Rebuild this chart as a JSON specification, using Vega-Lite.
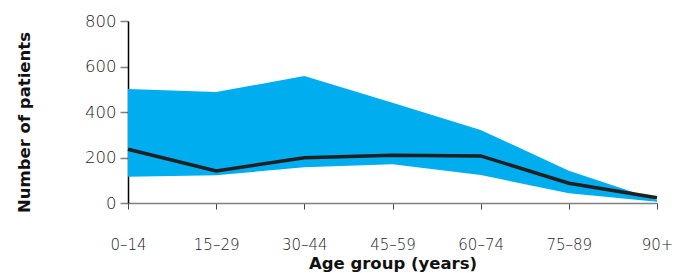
{
  "$schema": "https://vega.github.io/schema/vega-lite/v6.json",
  "autosize": {"type": "none"},
  "padding": {"left": 128, "top": 21, "right": 20, "bottom": 70},
  "width": 529,
  "height": 182,
  "background": "white",
  "config": {"view": {"stroke": null}, "axis": {"grid": false}},
  "data": {"values": [
    {"age": "0–14", "lower": 115, "upper": 501, "patients": 236},
    {"age": "15–29", "lower": 122, "upper": 488, "patients": 141},
    {"age": "30–44", "lower": 157, "upper": 558, "patients": 199},
    {"age": "45–59", "lower": 170, "upper": 441, "patients": 210},
    {"age": "60–74", "lower": 123, "upper": 321, "patients": 207},
    {"age": "75–89", "lower": 43, "upper": 142, "patients": 87},
    {"age": "90+", "lower": 6, "upper": 13, "patients": 23}
  ]},
  "encoding": {
    "x": {
      "field": "age", "type": "ordinal", "sort": null,
      "scale": {"type": "point", "padding": 0},
      "axis": {
        "title": "Age group (years)",
        "labelAngle": 0,
        "labelFont": "DejaVu Sans", "labelFontSize": 15, "labelFontWeight": 300, "labelColor": "#1a1a1a",
        "labelPadding": 28,
        "tickSize": 6, "tickColor": "#444444", "domainColor": "#808080", "domainWidth": 1.5,
        "titleFont": "DejaVu Sans", "titleFontSize": 16.5, "titleFontWeight": "bold", "titleColor": "#111111",
        "titleY": 65, "titleBaseline": "alphabetic"
      }
    }
  },
  "layer": [
    {
      "mark": {"type": "area", "color": "#00AEEF", "opacity": 1},
      "encoding": {
        "y": {
          "field": "upper", "type": "quantitative",
          "scale": {"domain": [0, 800]},
          "axis": {
            "title": "Number of patients",
            "values": [0, 200, 400, 600, 800],
            "labelFont": "DejaVu Sans", "labelFontSize": 16.5, "labelFontWeight": 300, "labelColor": "#1a1a1a",
            "labelPadding": 4, "tickSize": 8, "tickColor": "#808080", "tickWidth": 1.5,
            "domainColor": "#000000", "domainWidth": 1.5,
            "titleFont": "DejaVu Sans", "titleFontSize": 16.5, "titleFontWeight": "bold", "titleColor": "#111111",
            "titleX": -104, "titleY": 101, "titleBaseline": "middle", "titleAlign": "center", "titleAngle": -90
          }
        },
        "y2": {"field": "lower"}
      }
    },
    {
      "mark": {"type": "line", "color": "#231F20", "strokeWidth": 3.5},
      "encoding": {"y": {"field": "patients", "type": "quantitative"}}
    }
  ]
}
